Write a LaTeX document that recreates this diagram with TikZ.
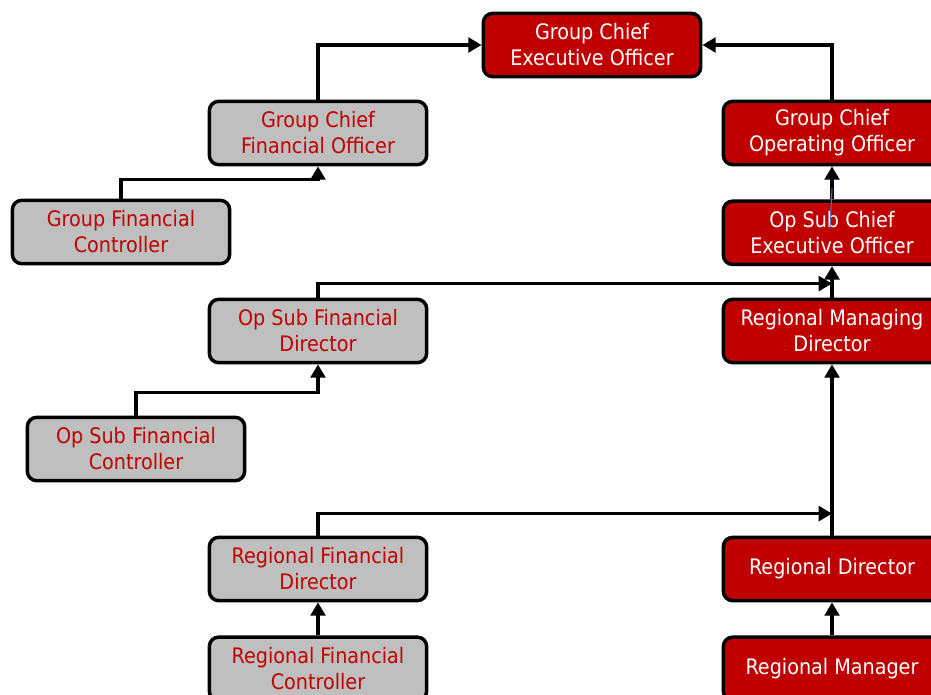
\documentclass[tikz,border=0pt]{standalone}
\usepackage{fontspec}
\setmainfont{DejaVu Sans Condensed}
\usetikzlibrary{positioning, arrows.meta, calc}

\definecolor{boxred}{RGB}{192,0,0}
\definecolor{boxgrey}{RGB}{191,191,191}
\definecolor{slip}{RGB}{68,114,196}

\begin{document}
\begin{tikzpicture}[
        x=0.75pt, y=-0.75pt,
        font=\fontsize{16}{19.5}\selectfont,
        node distance=24.75pt and 24.75pt,
        box/.style={draw, line width=2.6pt, rounded corners=7pt, minimum width=163pt, minimum height=47.5pt, align=center, inner sep=0pt},
        redbox/.style={box, fill=boxred, text=white},
        greybox/.style={box, fill=boxgrey, text=boxred},
        arrow/.style={draw, line width=2.8pt, -{Triangle[length=10pt, width=11pt]}}
    ]
    \useasboundingbox (0,0) rectangle (931,695);

    % Linie rechts
    \node (gceo) [redbox] at (592,45) {Group Chief\\Executive Officer};
    \node (gcoo) [redbox] at (832,133) {Group Chief\\Operating Officer};
    \node (osceo) [redbox, below=of gcoo] {Op Sub Chief\\Executive Officer};
    \node (rmd) [redbox] at (832,331) {Regional Managing\\Director};
    \node (rd) [redbox] at (832,569) {Regional Director};
    \node (rm) [redbox, below=of rd] {Regional Manager};

    % Finanzen links
    \node (gcfo) [greybox] at (318,133) {Group Chief\\Financial Officer};
    \node (gfc) [greybox] at (121,232) {Group Financial\\Controller};
    \node (osfd) [greybox] at (318,331) {Op Sub Financial\\Director};
    \node (osfc) [greybox] at (136,449) {Op Sub Financial\\Controller};
    \node (rfd) [greybox] at (318,569) {Regional Financial\\Director};
    \node (rfc) [greybox, below=of rfd] {Regional Financial\\Controller};

    % Verbindungen
    \draw[arrow] (gcfo.north) |- (gceo.west);
    \draw[arrow] (gcoo.north) |- (gceo.east);
    \draw[arrow] (gfc.north) -- ++(0,-19) -| (gcfo.south);
    \draw[arrow] (osceo.north) -- (gcoo.south);
    \draw[slip, line width=0.8pt] ($(osceo.north)+(0,-11)$) -- ($(osceo.north)+(-2,29)$);
    \draw[arrow] (rmd.north) -- (osceo.south);
    \draw[arrow] (osfd.north) |- ($(rmd.north)+(0,-14)$);
    \draw[arrow] (osfc.north) -- ++(0,-23) -| (osfd.south);
    \draw[arrow] (rd.north) -- (rmd.south);
    \draw[arrow] (rfd.north) |- ($(rd.north)+(0,-22)$);
    \draw[arrow] (rfc.north) -- (rfd.south);
    \draw[arrow] (rm.north) -- (rd.south);

\end{tikzpicture}
\end{document}
